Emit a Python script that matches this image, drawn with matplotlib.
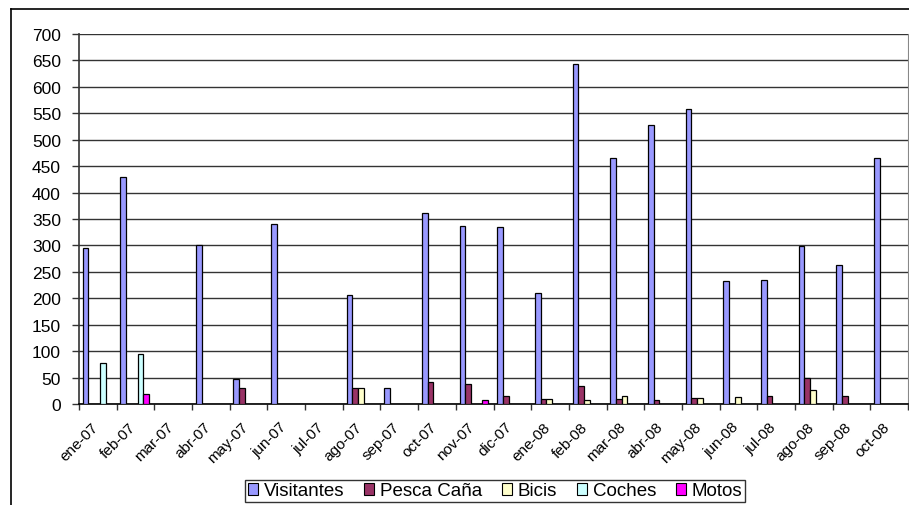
import numpy as np
import matplotlib
matplotlib.use("Agg")
import matplotlib.pyplot as plt
from matplotlib.lines import Line2D
from matplotlib.patches import Patch

plt.rcParams['font.family'] = ['Liberation Sans', 'DejaVu Sans']

# data
months = ['ene-07', 'feb-07', 'mar-07', 'abr-07', 'may-07', 'jun-07', 'jul-07',
          'ago-07', 'sep-07', 'oct-07', 'nov-07', 'dic-07', 'ene-08', 'feb-08',
          'mar-08', 'abr-08', 'may-08', 'jun-08', 'jul-08', 'ago-08', 'sep-08', 'oct-08']
visitantes = [295, 430, 0, 300, 48, 340, 0, 207, 30, 362, 337, 334, 210, 643,
              465, 528, 558, 232, 234, 298, 263, 465]
pesca_cana = [0, 0, 0, 0, 31, 0, 0, 31, 0, 42, 38, 16, 10, 35,
              10, 7, 12, 0, 16, 50, 16, 0]
bicis = [0, 0, 0, 0, 0, 0, 0, 31, 0, 0, 0, 0, 10, 8,
         16, 0, 12, 14, 0, 27, 0, 0]
coches = [78, 95, 0, 0, 0, 0, 0, 0, 0, 0, 0, 0, 0, 0,
          0, 0, 0, 0, 0, 0, 0, 0]
motos = [0, 18, 0, 0, 0, 0, 0, 0, 0, 0, 8, 0, 0, 0,
         0, 0, 0, 0, 0, 0, 0, 0]

series = [('Visitantes', visitantes, '#9999FF'),
          ('Pesca Caña', pesca_cana, '#993366'),
          ('Bicis', bicis, '#FFFFCC'),
          ('Coches', coches, '#CCFFFF'),
          ('Motos', motos, '#FF00FF')]

W, H = 909, 506
fig = plt.figure(figsize=(W / 100, H / 100), dpi=100)
ax = fig.add_axes([79 / W, 1 - 405 / H, (908 - 79) / W, (405 - 35) / H])

x = np.arange(len(months))
bw = 0.152
for k, (name, vals, col) in enumerate(series):
    v = np.array(vals, dtype=float)
    v[v == 0] = np.nan
    ax.bar(x + (k - 2) * bw - 0.02, v, width=bw, color=col, edgecolor='black',
           linewidth=0.9, zorder=3)

ax.set_xlim(-0.5, len(months) - 0.5)
ax.set_ylim(0, 700)
ax.set_yticks(np.arange(0, 701, 50))
ax.yaxis.grid(True, color='#333333', linewidth=1.0, zorder=0)

# tick marks on category boundaries, labels on centres
ax.set_xticks(np.arange(-0.5, len(months)), labels=[''] * (len(months) + 1))
ax.set_xticks(x - 0.19, labels=months, minor=True)
ax.tick_params(axis='x', which='major', length=4, width=1, color='#333333')
ax.tick_params(axis='x', which='minor', length=0, labelsize=11, pad=11)
for lab in ax.get_xticklabels(minor=True):
    lab.set_rotation(45)
    lab.set_ha('right')
    lab.set_va('top')
    lab.set_rotation_mode('anchor')
ax.tick_params(axis='y', length=5, width=1, color='#333333', labelsize=12.5, pad=8)

ax.spines['top'].set_visible(False)
ax.spines['right'].set_color('#888888')
ax.spines['left'].set_color('#333333')
ax.spines['left'].set_linewidth(1.2)
ax.spines['bottom'].set_color('black')
ax.spines['bottom'].set_linewidth(1.2)

# outer chart border (top and left only visible)
fig.add_artist(Line2D([11 / W, 1.0], [1 - 9.5 / H, 1 - 9.5 / H], color='black', linewidth=1.2))
fig.add_artist(Line2D([11 / W, 11 / W], [0, 1 - 9.5 / H], color='black', linewidth=1.2))

handles = [Patch(facecolor=c, edgecolor='black', linewidth=0.8, label=n) for n, _, c in series]
leg = fig.legend(handles=handles, loc='center', bbox_to_anchor=(495 / W, 1 - 492 / H),
                 ncol=5, fontsize=13.5, frameon=True, fancybox=False, handlelength=0.55,
                 handleheight=0.55, handletextpad=0.3, columnspacing=1.05,
                 borderpad=0.15, borderaxespad=0)
leg.get_frame().set_edgecolor('black')
leg.get_frame().set_linewidth(1.0)

fig.savefig('out.png', dpi=100)
